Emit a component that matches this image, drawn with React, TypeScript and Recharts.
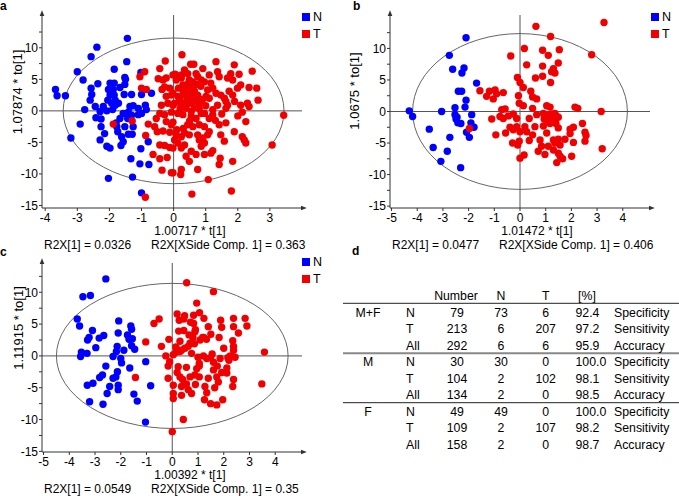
import React from 'react';
import { ScatterChart, Scatter, XAxis, YAxis, ReferenceLine, ReferenceArea, Legend } from 'recharts';

// OPLS-DA score plots: N (normal) vs T (tumour)
const aN = [
  [-1.44, 11.5], [-2.39, 10.1], [-2.57, 8.6], [-1.46, 7.8], [-3.0, 6.2], [-2.82, 4.9], [-1.85, 6.6], [-1.02, 6.1], [-1.52, 5.3], [-1.52, 4.2],
  [-2.36, 4.3], [-2.57, 3.6], [-1.98, 4.4], [-1.85, 4.4], [-2.03, 3.4], [-1.88, 3.4], [-3.68, 3.4], [-3.63, 2.4], [-3.37, 2.4], [-2.55, 2.6],
  [-2.6, 1.7], [-1.98, 2.5], [-1.85, 2.5], [-1.82, 1.7], [-1.93, 1.2], [-1.54, 2.6], [-1.31, 2.6], [-1.0, 2.6], [-0.69, 2.8], [-2.77, 0.2],
  [-2.29, -0.1], [-2.08, 0.0], [-1.9, 0.2], [-1.82, 0.9], [-1.72, 1.2], [-1.57, -0.4], [-1.41, -0.2], [-1.36, 0.7], [-1.26, 0.8], [-1.43, -1.2],
  [-1.31, -0.7], [-1.1, -0.6], [-1.0, -0.4], [-0.88, 0.9], [-0.85, 0.2], [-2.42, -1.1], [-2.26, -1.3], [-2.91, -2.1], [-2.26, -2.5], [-1.77, -2.5],
  [-1.52, -2.5], [-1.26, -2.5], [-2.15, -3.6], [-1.74, -3.3], [-1.62, -4.1], [-1.41, -3.7], [-1.29, -3.7], [-2.29, -4.6], [-1.57, -4.9], [-1.64, -5.5],
  [-2.08, -5.6], [-1.98, -5.9], [-3.2, -4.3], [-0.79, -4.9], [-1.02, -6.0], [-1.33, -7.6], [-1.05, -8.4], [-0.77, -8.5], [-2.03, -10.7], [-1.28, -10.5],
  [-1.0, -13.0], [-1.67, 3.7], [-2.19, 0.7], [-1.67, -1.2], [-1.1, 0.4], [-1.79, -1.9], [-2.44, 0.7], [-2.05, 1.7], [-1.5, 5.0],
];
const aT = [
  [-0.9, 6.2], [-1.05, 5.4], [-0.43, 6.7], [-0.26, 7.9], [-0.48, 5.1], [-0.33, 4.9], [-0.23, 5.2], [-0.02, 5.7], [-1.0, 3.6], [-0.85, 3.4],
  [-0.12, 3.6], [-0.23, 2.3], [-0.07, 2.5], [-0.18, 1.2], [-0.02, 0.9], [-0.43, -0.4], [-0.28, -0.6], [-0.07, -0.2], [-0.54, -1.2], [-1.29, -1.6],
  [-1.88, -2.1], [-0.79, -2.1], [-0.23, -1.7], [-0.02, -1.8], [-0.33, -3.2], [-0.12, -3.4], [-0.87, -3.9], [-0.43, -5.4], [-0.28, -5.5], [-0.12, -5.8],
  [-0.64, -6.9], [-0.43, -7.6], [-0.2, -7.4], [-0.36, -9.4], [-0.02, -9.8], [-0.88, -13.7], [-0.36, 3.4], [-0.28, 3.8], [-0.59, -2.5], [-0.51, -3.3],
  [-0.07, -2.2], [-0.38, 0.9],
  [0.26, 8.9], [0.53, 7.4], [0.63, 7.4], [1.32, 7.8], [1.89, 7.3], [2.45, 6.3], [0.91, 6.7], [0.34, 6.5], [0.44, 5.9], [0.24, 5.7],
  [0.05, 5.8], [0.7, 5.9], [0.75, 5.4], [1.11, 5.7], [1.37, 6.2], [1.42, 5.4], [1.78, 5.9], [2.04, 5.8], [1.68, 5.2], [1.84, 4.9],
  [0.08, 4.9], [0.24, 5.2], [0.49, 4.9], [0.6, 4.6], [0.86, 4.9], [0.96, 4.6], [1.16, 4.4], [2.09, 4.1], [1.99, 3.6], [2.35, 3.7],
  [2.59, 3.6], [0.29, 4.1], [0.39, 3.6], [0.49, 3.3], [0.6, 3.8], [0.65, 3.1], [0.75, 2.5], [0.55, 2.3], [0.44, 2.0], [0.34, 2.5],
  [0.7, 1.7], [0.6, 1.5], [0.49, 1.2], [0.8, 1.2], [1.06, 3.3], [1.22, 3.6], [1.32, 2.8], [1.01, 2.3], [1.11, 2.0], [1.47, 2.5],
  [1.58, 2.0], [1.73, 3.1], [1.84, 2.5], [-0.02, 2.8], [0.13, 2.3], [0.19, 1.7], [0.03, 1.2], [0.24, 0.9], [1.63, 1.5], [1.68, 0.9],
  [1.63, 0.4], [2.09, 0.9], [2.3, 1.2], [2.35, 0.7], [2.63, 1.7], [2.14, -0.2], [2.25, -1.7], [1.37, 0.9], [1.22, 0.2], [0.96, -0.4],
  [0.86, -0.4], [0.55, -0.1], [0.39, 0.4], [0.29, -0.6], [0.13, -0.4], [0.55, -0.9], [0.7, -1.2], [1.22, -0.6], [1.11, -1.2], [3.43, -0.7],
  [0.44, -2.2], [0.6, -2.5], [0.8, -2.2], [0.96, -2.5], [1.42, -2.2], [1.63, -1.9], [1.89, -3.3], [2.14, -4.1], [2.25, -5.1], [2.2, -4.6],
  [1.47, -3.8], [1.58, -4.8], [1.11, -3.3], [1.06, -3.8], [0.91, -4.3], [0.8, -4.6], [0.75, -3.8], [0.49, -3.8], [0.34, -3.5], [0.24, -4.1],
  [0.08, -3.8], [0.03, -4.6], [0.13, -5.1], [0.24, -5.9], [0.34, -5.4], [-0.02, -5.9], [0.96, -5.1], [0.86, -5.6], [1.22, -6.3], [1.16, -6.7],
  [0.96, -6.9], [0.55, -6.4], [0.39, -7.2], [0.49, -8.0], [0.7, -6.9], [1.45, -7.5], [1.42, -8.5], [1.84, -8.0], [3.07, -5.4], [0.24, -9.3],
  [0.22, -10.1], [-0.07, -9.8], [0.75, -9.3], [1.08, -10.9], [0.57, -13.2], [1.8, -12.7],
  [0.5, 3.0], [0.6, 2.7], [0.45, 4.3], [0.7, 4.2], [0.85, 3.9], [0.3, 3.0], [0.15, 3.6], [0.9, 1.8], [0.4, 1.5], [0.65, 0.5],
  [0.8, 0.3], [1.0, 0.8], [0.2, 0.3], [0.5, -1.6], [0.3, -2.8], [1.3, -1.5], [1.9, 1.5], [2.0, -0.8], [1.5, -0.5], [0.1, -3.0],
];

const bN = [
  [-2.1, 11.7], [-2.75, 8.9], [-2.62, 6.7], [-2.18, 6.9], [-2.26, 6.1], [-1.69, 4.5], [-2.4, 3.2], [-2.27, 3.2], [-2.1, 1.8], [-2.14, 0.7],
  [-2.53, 0.6], [-4.31, 0.1], [-4.18, -0.8], [-3.05, 0], [-2.53, -0.5], [-2.49, -1.2], [-2.42, -1.8], [-2.3, -1.9], [-1.88, -0.5], [-1.91, -1.8],
  [-1.79, -2.5], [-2.08, -3.3], [-1.97, -4.1], [-3.53, -2.8], [-2.73, -4.1], [-3.38, -5.7], [-2.83, -6.3], [-3.08, -7.9], [-2.31, -8.9], [-2.45, -0.9],
];
const bT = [
  [0.62, 13.5], [3.27, 14.1], [1.19, 11.9], [0.17, 10.0], [0.88, 9.7], [1.1, 8.9], [1.53, 9.8], [-0.36, 8.8], [2.79, 9.0], [0.26, 7.4],
  [1.49, 7.7], [0.88, 7.2], [1.3, 6.8], [1.36, 6.1], [1.23, 6.3], [0.6, 5.3], [-0.1, 5.4], [0, 4.6], [0.13, 3.8], [0.88, 5.6],
  [1.19, 4.6], [-1.56, 3.3], [-1.19, 3.2], [-1.3, 2.4], [-0.97, 3.4], [-0.91, 2.8], [-0.65, 3.0], [-1.04, 2.0], [-0.06, 2.5], [0.42, 3.2],
  [0.49, 2.3], [0.65, 2.0], [-0.03, 1.3], [0.13, 0.9], [0.49, 0.5], [1.04, 0.9], [1.17, 0.7], [2.14, 0.7], [2.25, 0.5], [3.16, 0],
  [-0.71, 0.3], [-0.58, 0.4], [-0.78, -0.8], [-0.65, -1.1], [-0.45, -0.7], [-1.1, -1.2], [-0.26, -0.4], [-0.13, -1.1], [0.36, -1.1], [0.65, -0.5],
  [0.91, -0.3], [1.04, -0.5], [1.1, -0.8], [1.23, -0.4], [1.36, -0.3], [1.43, -0.8], [1.3, -1.2], [0.94, -1.2], [1.07, -1.4], [1.49, -0.9],
  [0.91, -2.3], [1.17, -1.9], [1.4, -1.9], [1.49, -2.6], [-0.39, -2.5], [-0.26, -2.9], [-0.13, -2.4], [0, -3.2], [0.19, -2.4], [0.26, -3.2],
  [0.58, -2.4], [-0.56, -3.4], [-0.94, -3.7], [-0.29, -5.0], [-0.09, -5.3], [-0.03, -4.7], [0.36, -4.6], [0.49, -3.7], [1.04, -3.4], [1.3, -4.5],
  [1.36, -5.0], [0.78, -4.5], [1.1, -5.5], [1.49, -4.4], [1.56, -5.3], [1.75, -4.4], [1.95, -2.8], [2.08, -2.5], [1.95, -3.5], [2.08, -4.9],
  [2.43, -1.9], [2.53, -3.3], [2.57, -3.8], [2.53, -4.7], [3.2, -5.9], [0.84, -5.5], [0.71, -6.3], [0.16, -6.9], [0, -7.4], [0.97, -6.8],
  [1.3, -6.1], [1.49, -6.6], [1.56, -7.1], [1.66, -7.5], [1.43, -8.1], [2.01, -7.1], [-1.97, -2.7],
];

const cN = [
  [-2.58, 12.1], [-3.47, 9.3], [-3.18, 9.5], [-3.69, 5.8], [-3.6, 4.7], [-2.08, 5.5], [-1.61, 4.7], [-1.58, 4.2], [-3.1, 4.0], [-3.23, 2.9],
  [-3.29, 2.5], [-2.84, 2.8], [-2.66, 3.2], [-2.97, 1.3], [-3.31, 0.4], [-3.53, 0.6], [-3.56, -0.1], [-2.1, 3.6], [-1.74, 3.3], [-1.68, 2.6],
  [-1.55, 2.7], [-1.46, 1.05], [-1.58, 1.6], [-2.14, 1.5], [-1.88, 0.9], [-2.17, 0.7], [-2.3, -0.1], [-2.0, -0.4], [-1.97, -1.1], [-1.03, -0.9],
  [-2.58, -1.6], [-1.65, -1.9], [-2.13, -2.5], [-2.19, -3.3], [-2.3, -3.5], [-2.71, -3.0], [-2.82, -3.4], [-3.08, -4.3], [-3.3, -4.6], [-2.43, -4.8],
  [-2.1, -4.6], [-2.1, -5.3], [-2.53, -5.9], [-0.84, -4.7], [-1.49, -6.0], [-1.36, -7.1], [-3.21, -7.2], [-2.69, -7.6], [-1.04, -10.4],
];
const cT = [
  [0.56, 11.5], [1.6, 10.1], [0.95, 8.3], [-0.51, 5.8], [-0.71, 5.1], [0.19, 6.6], [0.27, 5.6], [0.48, 6.3], [0.45, 5.8], [0.83, 6.4],
  [1.06, 6.8], [1.23, 5.9], [0.83, 5.1], [0.71, 5.3], [0.9, 4.1], [0.88, 3.8], [0.45, 4.0], [1.88, 5.6], [2.38, 5.9], [2.83, 5.9],
  [1.92, 4.5], [2.38, 4.6], [2.9, 4.7], [2.57, 3.6], [1.22, 2.9], [1.33, 2.6], [1.82, 2.9], [2.35, 2.4], [2.38, 1.5], [2.38, 0.9],
  [-0.13, 2.6], [-0.42, 1.5], [-1.03, 2.2], [0.14, 1.4], [0.36, 0.9], [0.49, 1.2], [0.62, 1.5], [0.69, 2.0], [0.86, 1.9], [1.08, 2.5],
  [1.18, 2.9], [-0.25, 0], [0.04, 0.2], [0.3, 0.7], [1.21, 0], [1.34, -0.4], [1.49, -0.3], [1.86, -0.4], [2.16, -0.3], [2.25, 0],
  [2.44, -0.2], [1.05, -1.2], [1.05, -1.6], [-0.16, -1.6], [0.23, -1.7], [-0.16, -3.5], [0.04, -4.6], [0.19, -2.6], [0.3, -3.3], [0.4, -3.7],
  [0.69, -3.3], [0.88, -3.0], [1.05, -3.3], [1.4, -3.5], [1.73, -3.3], [1.92, -2.6], [2.12, -1.9], [1.79, -4.1], [2.12, -2.7], [2.38, -3.7],
  [0.36, -4.8], [0.62, -5.3], [0.75, -5.9], [0.04, -5.9], [0.04, -6.7], [0.36, -6.2], [1.27, -4.8], [1.34, -5.8], [1.25, -6.9], [1.49, -7.5],
  [1.73, -7.7], [1.96, -6.9], [2.35, -4.8], [0.43, -10.0], [0, -11.9], [-1.43, -3.4], [3.58, 0.6], [3.48, -4.4], [0.95, -2.0], [0.55, -1.8],
  [1.6, -1.0], [1.75, -1.6], [1.6, -2.2], [0.65, 3.3], [0.3, 2.3], [0.15, 0.6], [1.5, 3.4], [0.75, 0.4], [1.0, -0.2], [2.0, 1.2],
  [0.55, -4.4], [0.9, -4.5], [1.55, 0.3], [-0.1, -0.9], [0.8, 2.9], [1.65, -5.0], [2.2, -0.7], [0.25, 3.9], [1.4, 4.6],
];

// Hotelling T2 ellipse semi-axes (t, to units)
const ellipseA = [3.44, 11.55];
const ellipseB = [4.18, 12.35];
const ellipseC = [4.5, 11.4];

const yTicks = [-15, -12.5, -10, -7.5, -5, -2.5, 0, 2.5, 5, 7.5, 10, 12.5];
const xTicksA = [-4, -3, -2, -1, 0, 1, 2, 3];
const xTicksBC = [-5, -4, -3, -2, -1, 0, 1, 2, 3, 4];

// table d
const groups = ['M+F', 'M', 'F'];
const classes = ['N', 'T', 'All'];
const numbers = [[79, 213, 292], [30, 104, 134], [49, 109, 158]];
const predN = [[73, 6, 6], [30, 2, 2], [49, 2, 2]];
const predT = [[6, 207, 6], [0, 102, 0], [0, 107, 0]];
const percent = [['92.4', '97.2', '95.9'], ['100.0', '98.1', '98.5'], ['100.0', '98.2', '98.7']];
const measures = ['Specificity', 'Sensitivity', 'Accuracy'];

const BLUE = '#0000ff';
const RED = '#f00000';
const FONT = '"Liberation Sans", Arial, sans-serif';
const FS = 12;
const R = 3.7;
const toPts = (arr) => arr.map(([x, y]) => ({ x, y }));

const renderLegend = (props) => (
  <div style={{ fontFamily: FONT, fontSize: 12.5 }}>
    {props.payload.map((e) => (
      <div key={e.value} style={{ display: 'flex', alignItems: 'center', height: 17 }}>
        <span style={{ width: 8, height: 8, background: e.color, marginRight: 3 }} />
        <span>{e.value}</span>
      </div>
    ))}
  </div>
);

function Panel({ cfg }) {
  const { width, height, margin, plotBottom, xDomain, yDomain, xTicks, ell, n, t } = cfg;
  const ellipse = (p) => {
    const x = Math.min(p.x, p.x + p.width);
    const y = Math.min(p.y, p.y + p.height);
    const w = Math.abs(p.width);
    const h = Math.abs(p.height);
    return <ellipse cx={x + w / 2} cy={y + h / 2} rx={w / 2} ry={h / 2} fill="none" stroke="#666" strokeWidth={1} />;
  };
  const plotLeft = margin.left + 30;
  const xLabel = () => (
    <g fontFamily={FONT} fill="#000">
      <text x={cfg.xLabelX} y={plotBottom + cfg.xLabelDy} textAnchor="middle" fontSize={FS}>{cfg.xLabel}</text>
      <text x={plotLeft + 2} y={plotBottom + cfg.r2xDy} fontSize={FS}>{cfg.r2x1}</text>
      <text x={plotLeft + 109} y={plotBottom + cfg.r2xDy} fontSize={FS}>{cfg.r2x2}</text>
    </g>
  );
  const yLabel = () => (
    <text x={cfg.yLabelX} y={cfg.yLabelY} transform={`rotate(-90 ${cfg.yLabelX} ${cfg.yLabelY})`} textAnchor="middle"
      dominantBaseline="central" fontFamily={FONT} fontSize={13} fill="#000">{cfg.yLabel}</text>
  );
  return (
    <div style={{ position: 'absolute', left: cfg.left, top: cfg.top }}>
      <ScatterChart width={width} height={height} margin={margin}>
        <XAxis type="number" dataKey="x" domain={xDomain} ticks={xTicks} allowDataOverflow interval={0}
          height={16} stroke="#333" tickSize={3} tickMargin={2}
          axisLine={{ markerEnd: 'url(#axisArrow)' }}
          tick={{ fill: '#000', fontSize: FS, fontFamily: FONT }} label={xLabel} />
        <YAxis type="number" dataKey="y" domain={yDomain} ticks={yTicks} allowDataOverflow interval={0}
          width={30} stroke="#333" tickSize={3} tickMargin={1}
          axisLine={{ markerStart: 'url(#axisArrow)' }}
          tickFormatter={(v) => (v % 5 === 0 ? String(v) : '')}
          tick={{ fill: '#000', fontSize: FS, fontFamily: FONT }} label={yLabel} />
        <ReferenceArea x1={-ell[0]} x2={ell[0]} y1={-ell[1]} y2={ell[1]} shape={ellipse} />
        <ReferenceLine x={0} stroke="#555" strokeWidth={1} />
        <ReferenceLine y={0} stroke="#555" strokeWidth={1} />
        <Legend layout="vertical" align="center" verticalAlign="middle" content={renderLegend}
          wrapperStyle={{ left: cfg.legendLeft, top: cfg.legendTop, width: 30, height: 36 }} />
        <Scatter name="N" data={toPts(n)} fill={BLUE} isAnimationActive={false}
          shape={(p) => <circle cx={p.cx} cy={p.cy} r={R} fill={BLUE} />} />
        <Scatter name="T" data={toPts(t)} fill={RED} isAnimationActive={false}
          shape={(p) => <circle cx={p.cx} cy={p.cy} r={R} fill={RED} />} />
      </ScatterChart>
    </div>
  );
}

const panels = [
  {
    left: 0, top: 0, width: 340, height: 256, margin: { top: 15, right: 38, bottom: 32, left: 12 },
    plotBottom: 208, xDomain: [-4.1, 4.0], yDomain: [-15.4, 15.2], xTicks: xTicksA, ell: ellipseA, n: aN, t: aT,
    xLabel: '1.00717 * t[1]', xLabelX: 190, xLabelDy: 27.2, r2xDy: 41,
    r2x1: 'R2X[1] = 0.0326', r2x2: 'R2X[XSide Comp. 1] = 0.363',
    yLabel: '1.07874 * to[1]', yLabelX: 17, yLabelY: 92, legendLeft: 302, legendTop: 8,
  },
  {
    left: 340, top: 0, width: 339, height: 256, margin: { top: 15, right: 29, bottom: 32, left: 20 },
    plotBottom: 208, xDomain: [-5.06, 5.06], yDomain: [-15.3, 15.3], xTicks: xTicksBC, ell: ellipseB, n: bN, t: bT,
    xLabel: '1.01472 * t[1]', xLabelX: 197, xLabelDy: 27.2, r2xDy: 41,
    r2x1: 'R2X[1] = 0.0477', r2x2: 'R2X[XSide Comp. 1] = 0.406',
    yLabel: '1.0675 * to[1]', yLabelX: 14, yLabelY: 91, legendLeft: 311, legendTop: 8,
  },
  {
    left: 0, top: 250, width: 340, height: 246, margin: { top: 13, right: 38, bottom: 28, left: 12 },
    plotBottom: 202, xDomain: [-5.06, 5.04], yDomain: [-15.1, 14.6], xTicks: xTicksBC, ell: ellipseC, n: cN, t: cT,
    xLabel: '1.00392 * t[1]', xLabelX: 190, xLabelDy: 27.2, r2xDy: 41,
    r2x1: 'R2X[1] = 0.0549', r2x2: 'R2X[XSide Comp. 1] = 0.35',
    yLabel: '1.11915 * to[1]', yLabelX: 18, yLabelY: 78, legendLeft: 302, legendTop: 3,
  },
];

function TableD() {
  const base0 = 66.5;
  const step = 16.55;
  return (
    <svg width={339} height={246} style={{ position: 'absolute', left: 340, top: 250 }} fontFamily={FONT} fontSize={12.3}>
      <text x={116} y={50} textAnchor="middle">Number</text>
      <text x={161} y={50} textAnchor="middle">N</text>
      <text x={205.7} y={50} textAnchor="middle">T</text>
      <text x={247} y={50} textAnchor="middle">[%]</text>
      <line x1={3} x2={339} y1={53.3} y2={53.3} stroke="#222" strokeWidth={1} />
      <line x1={3} x2={339} y1={103.3} y2={103.3} stroke="#888" strokeWidth={2} />
      <line x1={3} x2={339} y1={152.7} y2={152.7} stroke="#222" strokeWidth={1} />
      {groups.map((g, gi) =>
        classes.map((c, ci) => {
          const y = base0 + step * (gi * 3 + ci);
          return (
            <g key={`${g}-${c}`}>
              {ci === 0 && <text x={28} y={y} textAnchor="middle">{g}</text>}
              <text x={66} y={y}>{c}</text>
              <text x={117} y={y} textAnchor="middle">{numbers[gi][ci]}</text>
              <text x={161} y={y} textAnchor="middle">{predN[gi][ci]}</text>
              <text x={205.7} y={y} textAnchor="middle">{predT[gi][ci]}</text>
              <text x={235.5} y={y}>{percent[gi][ci]}</text>
              <text x={274} y={y}>{measures[ci]}</text>
            </g>
          );
        })
      )}
    </svg>
  );
}

const letterStyle = { position: 'absolute', fontFamily: FONT, fontWeight: 'bold', fontSize: 12, lineHeight: '12px' };

export default function App() {
  return (
    <div style={{ position: 'absolute', left: 0, top: 0, width: 679, height: 496, background: '#fff', overflow: 'hidden' }}>
      <svg width={0} height={0} style={{ position: 'absolute' }}>
        <defs>
          <marker id="axisArrow" viewBox="0 0 10 10" refX="2" refY="5" markerWidth="6" markerHeight="6"
            markerUnits="userSpaceOnUse" orient="auto-start-reverse">
            <path d="M0,1 L10,5 L0,9 z" fill="#333" />
          </marker>
        </defs>
      </svg>
      {panels.map((p, i) => <Panel key={i} cfg={p} />)}
      <TableD />
      <div style={{ ...letterStyle, left: 0, top: 0 }}>a</div>
      <div style={{ ...letterStyle, left: 353, top: 0 }}>b</div>
      <div style={{ ...letterStyle, left: 0, top: 246 }}>c</div>
      <div style={{ ...letterStyle, left: 352, top: 245 }}>d</div>
    </div>
  );
}
